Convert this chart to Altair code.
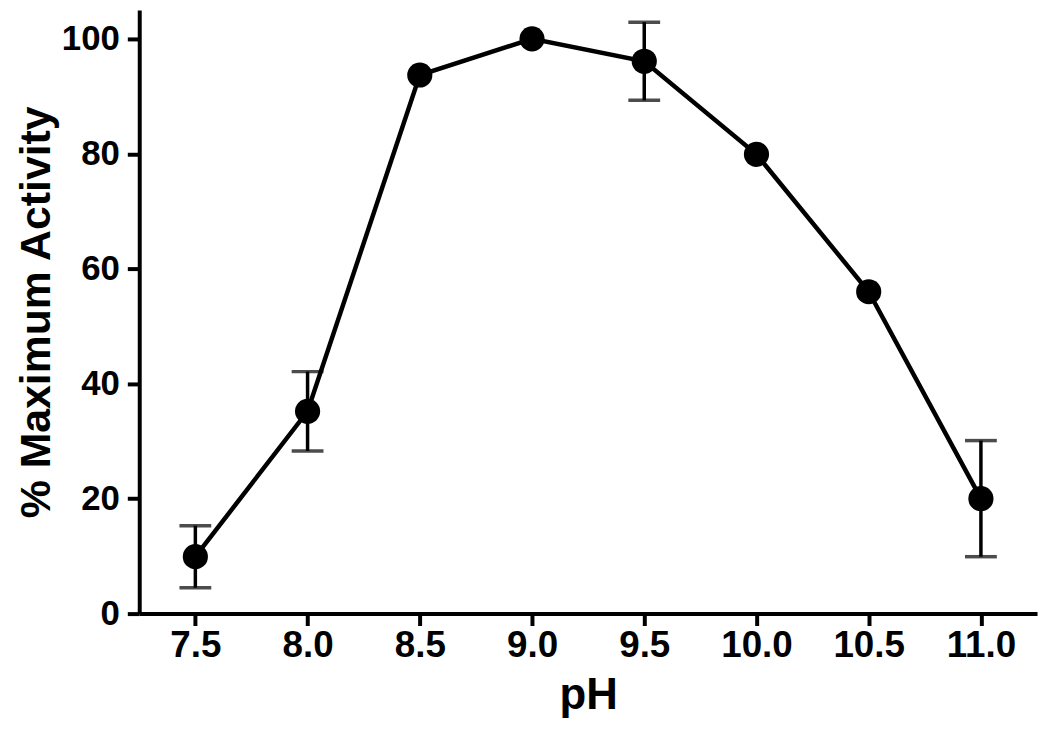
import altair as alt
import pandas as pd

ph = [7.5, 8.0, 8.5, 9.0, 9.5, 10.0, 10.5, 11.0]
activity = [9.9, 35.2, 93.7, 100.0, 96.1, 79.9, 56.0, 20.0]
err = [5.4, 6.9, 0.0, 0.0, 6.8, 0.0, 0.0, 10.1]

df = pd.DataFrame({"ph": ph, "act": activity, "err": err})
df["lo"] = df["act"] - df["err"]
df["hi"] = df["act"] + df["err"]
eb = df[df["err"] > 0]

FONT = "Liberation Sans"

x = alt.X("ph:Q", scale=alt.Scale(domain=[7.25, 11.25], nice=False, zero=False),
          axis=alt.Axis(title="pH", values=ph, format=".1f", labelFontSize=37,
                        titleFontSize=44, labelPadding=2, titlePadding=10))
y = alt.Y("act:Q", scale=alt.Scale(domain=[0, 105], nice=False),
          axis=alt.Axis(title="% Maximum Activity", values=[0, 20, 40, 60, 80, 100],
                        format="d", labelFontSize=35, titleFontSize=43,
                        labelPadding=8, titlePadding=3))

base = alt.Chart(df)
line = base.mark_line(color="black", strokeWidth=4.5).encode(x=x, y=y)
pts = base.mark_circle(color="black", size=640, opacity=1).encode(x="ph:Q", y="act:Q")

ebase = alt.Chart(eb)
rules = ebase.mark_rule(color="black", strokeWidth=3.5).encode(x="ph:Q", y="lo:Q", y2="hi:Q")
cap_lo = ebase.mark_tick(color="black", thickness=3.5, size=32, orient="horizontal").encode(x="ph:Q", y="lo:Q")
cap_hi = ebase.mark_tick(color="black", thickness=3.5, size=32, orient="horizontal").encode(x="ph:Q", y="hi:Q")

chart = (rules + cap_lo + cap_hi + line + pts).properties(
    width=903, height=607,
    autosize=alt.AutoSizeParams(type="none"),
    padding={"left": 132, "top": 0, "right": 5, "bottom": 120},
).configure_view(stroke=None).configure_axis(
    grid=False, domainColor="black", domainWidth=4, tickColor="black",
    tickWidth=4, tickSize=12, labelColor="black", titleColor="black",
    labelFont=FONT, titleFont=FONT, labelFontWeight="bold", titleFontWeight="bold",
)

chart.save("out.html", embed_options={"renderer": "svg", "actions": False})
